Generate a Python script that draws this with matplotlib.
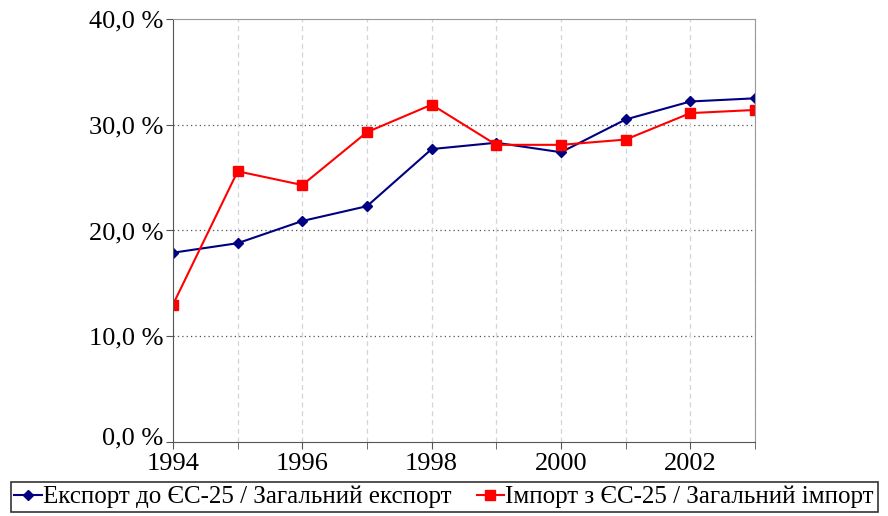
import numpy as np
import matplotlib.pyplot as plt
import matplotlib.transforms as mtransforms
from matplotlib.ticker import FixedLocator, FuncFormatter

plt.rcParams['font.family'] = ['Liberation Serif', 'DejaVu Serif']

years = [1994, 1995, 1996, 1997, 1998, 1999, 2000, 2001, 2002, 2003]
export_share = [17.9, 18.8, 20.9, 22.3, 27.7, 28.3, 27.4, 30.5, 32.2, 32.5]
import_share = [13.0, 25.6, 24.3, 29.3, 31.9, 28.1, 28.1, 28.6, 31.1, 31.4]
export_label = "Експорт до ЄС-25 / Загальний експорт"
import_label = "Імпорт з ЄС-25 / Загальний імпорт"

fig = plt.figure(figsize=(8.88, 5.16), dpi=100)
ax = fig.add_axes([173/888, 1 - 442/516, (755-173)/888, (442-19)/516])

ax.plot(years, export_share, color='#000080', marker='D', markersize=5.5, lw=1.5, label=export_label)
ax.plot(years, import_share, color='#ff0000', marker='s', markersize=7, lw=1.5, label=import_label)

ax.set_xlim(1994, 2003)
ax.set_ylim(0, 40)
ax.xaxis.set_major_locator(FixedLocator([1994, 1996, 1998, 2000, 2002]))
ax.xaxis.set_minor_locator(FixedLocator(years))
ax.set_yticks([0, 10, 20, 30, 40])
ax.yaxis.set_major_formatter(FuncFormatter(lambda v, p: f"{v:.1f} %".replace('.', ',')))

# grid
for y in [10, 20, 30]:
    ax.axhline(y, color='#555555', lw=0.9, ls=(0, (1, 2.5)), zorder=0)
for x in years[1:]:
    ax.axvline(x, color='#d4d4d4', lw=0.9, ls=(0, (4, 3)), zorder=0)

for s in ['top', 'right']:
    ax.spines[s].set_color('#999999')
for s in ['left', 'bottom']:
    ax.spines[s].set_color('#555555')

ax.tick_params(axis='both', which='both', direction='out', length=5, color='#555555',
               labelsize=19, pad=2)
ax.tick_params(axis='x', which='major', pad=3)

# lift the 0,0 % label a little, as in the original
fig.canvas.draw()
lbl0 = ax.get_yticklabels()[0]
lbl0.set_transform(lbl0.get_transform() + mtransforms.ScaledTranslation(0, 6/100, fig.dpi_scale_trans))

leg = fig.legend(loc='lower center', bbox_to_anchor=(0.5, 0.0), ncol=2, fontsize=18,
                 frameon=True, fancybox=False, edgecolor='black', handlelength=1.1,
                 handletextpad=0.05, columnspacing=1.0, borderpad=0.15, borderaxespad=0.15)
leg.get_frame().set_linewidth(1.2)

fig.savefig('out.png', dpi=100)
